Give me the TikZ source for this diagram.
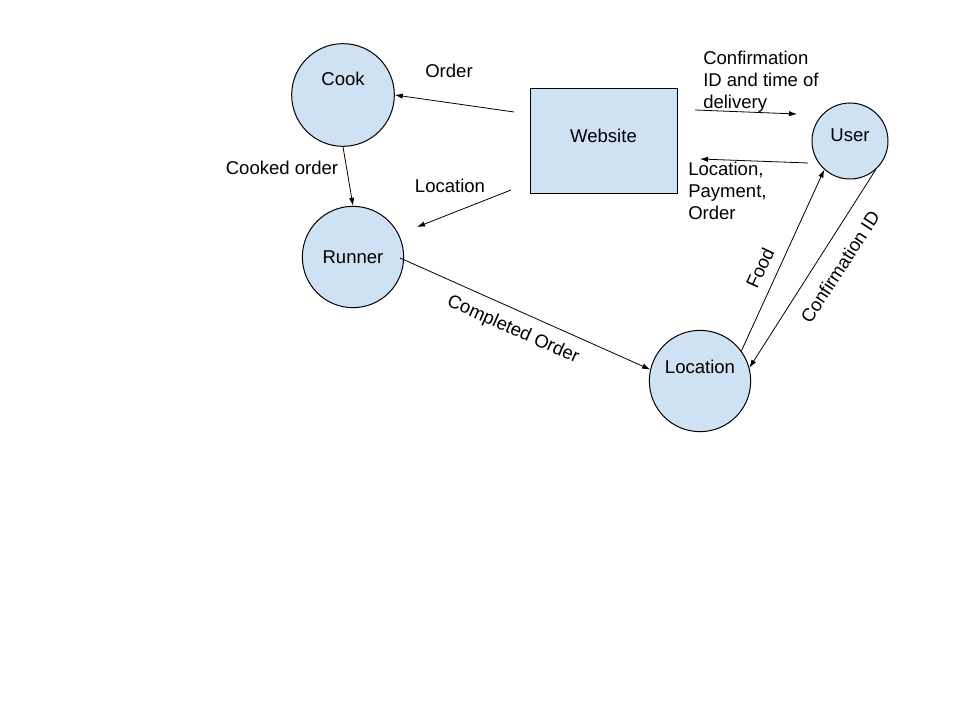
\documentclass[tikz,border=0pt]{standalone}
\usepackage{fontspec}
\setmainfont{Liberation Sans}
\usetikzlibrary{arrows.meta}
\definecolor{nodefill}{HTML}{CFE2F3}

\begin{document}
\begin{tikzpicture}[
  x=0.75pt,y=-0.75pt,
  >={Latex[length=6pt,width=4pt]},
  bubble/.style={circle,draw=black,fill=nodefill,line width=0.75pt,inner sep=0pt},
  store/.style={rectangle,draw=black,fill=nodefill,line width=0.75pt,inner sep=0pt,
    minimum width=110.25pt,minimum height=78.75pt},
  flow/.style={->,line width=0.6pt,black},
  lbl/.style={inner sep=0pt,align=left},
  every node/.style={font=\fontsize{13.9pt}{16.5pt}\selectfont}
]
  \useasboundingbox (0,0) rectangle (960,720);

  % processes
  \node[bubble,minimum size=77pt,label={[yshift=12pt]center:Cook}] (cook) at (343,95) {};
  \node[bubble,minimum size=76pt,label={[yshift=0pt]center:Runner}] (runner) at (353,257) {};
  \node[store,label={[yshift=4pt]center:Website}] (website) at (603.5,141.5) {};
  \node[bubble,minimum size=57pt,label={[yshift=4pt]center:User}] (user) at (850,141) {};
  \node[bubble,minimum size=76pt,label={[yshift=10.5pt]center:Location}] (location) at (700,381) {};

  % free arrow ends
  \coordinate (ordfrom) at (514,112);
  \coordinate (locfrom) at (511,190);
  \coordinate (locto) at (417,227);
  \coordinate (conffrom) at (695,110);
  \coordinate (confto) at (797,114);
  \coordinate (payfrom) at (808,163);
  \coordinate (payto) at (700,159);
  \coordinate (runfrom) at (400,258);

  \draw[flow] (ordfrom) -- (cook.east);
  \draw[flow] (cook.south) -- (runner.north);
  \draw[flow] (locfrom) -- (locto);
  \draw[flow] (conffrom) -- (confto);
  \draw[flow] (payfrom) -- (payto);
  \draw[flow] (runfrom) -- (location.167);
  \draw[flow] (location.36) -- (user.228);
  \draw[flow] (user.312) -- (location.15);

  % labels
  \node[lbl] (ordlbl) at (449,71) {Order};
  \node[lbl] (cookedlbl) at (282,168) {Cooked order};
  \node[lbl] (loclbl) at (450,186) {Location};
  \node[lbl,anchor=north west] (conflbl) at (703,51) {Confirmation\\ID and time of\\delivery};
  \node[lbl,anchor=north west] (paylbl) at (688,162) {Location,\\Payment,\\Order};
  \node[lbl,rotate=-24] (donelbl) at (513,330) {Completed Order};
  \node[lbl,rotate=65] (foodlbl) at (760,268) {Food};
  \node[lbl,rotate=57] (idlbl) at (840,267) {Confirmation ID};
\end{tikzpicture}
\end{document}
